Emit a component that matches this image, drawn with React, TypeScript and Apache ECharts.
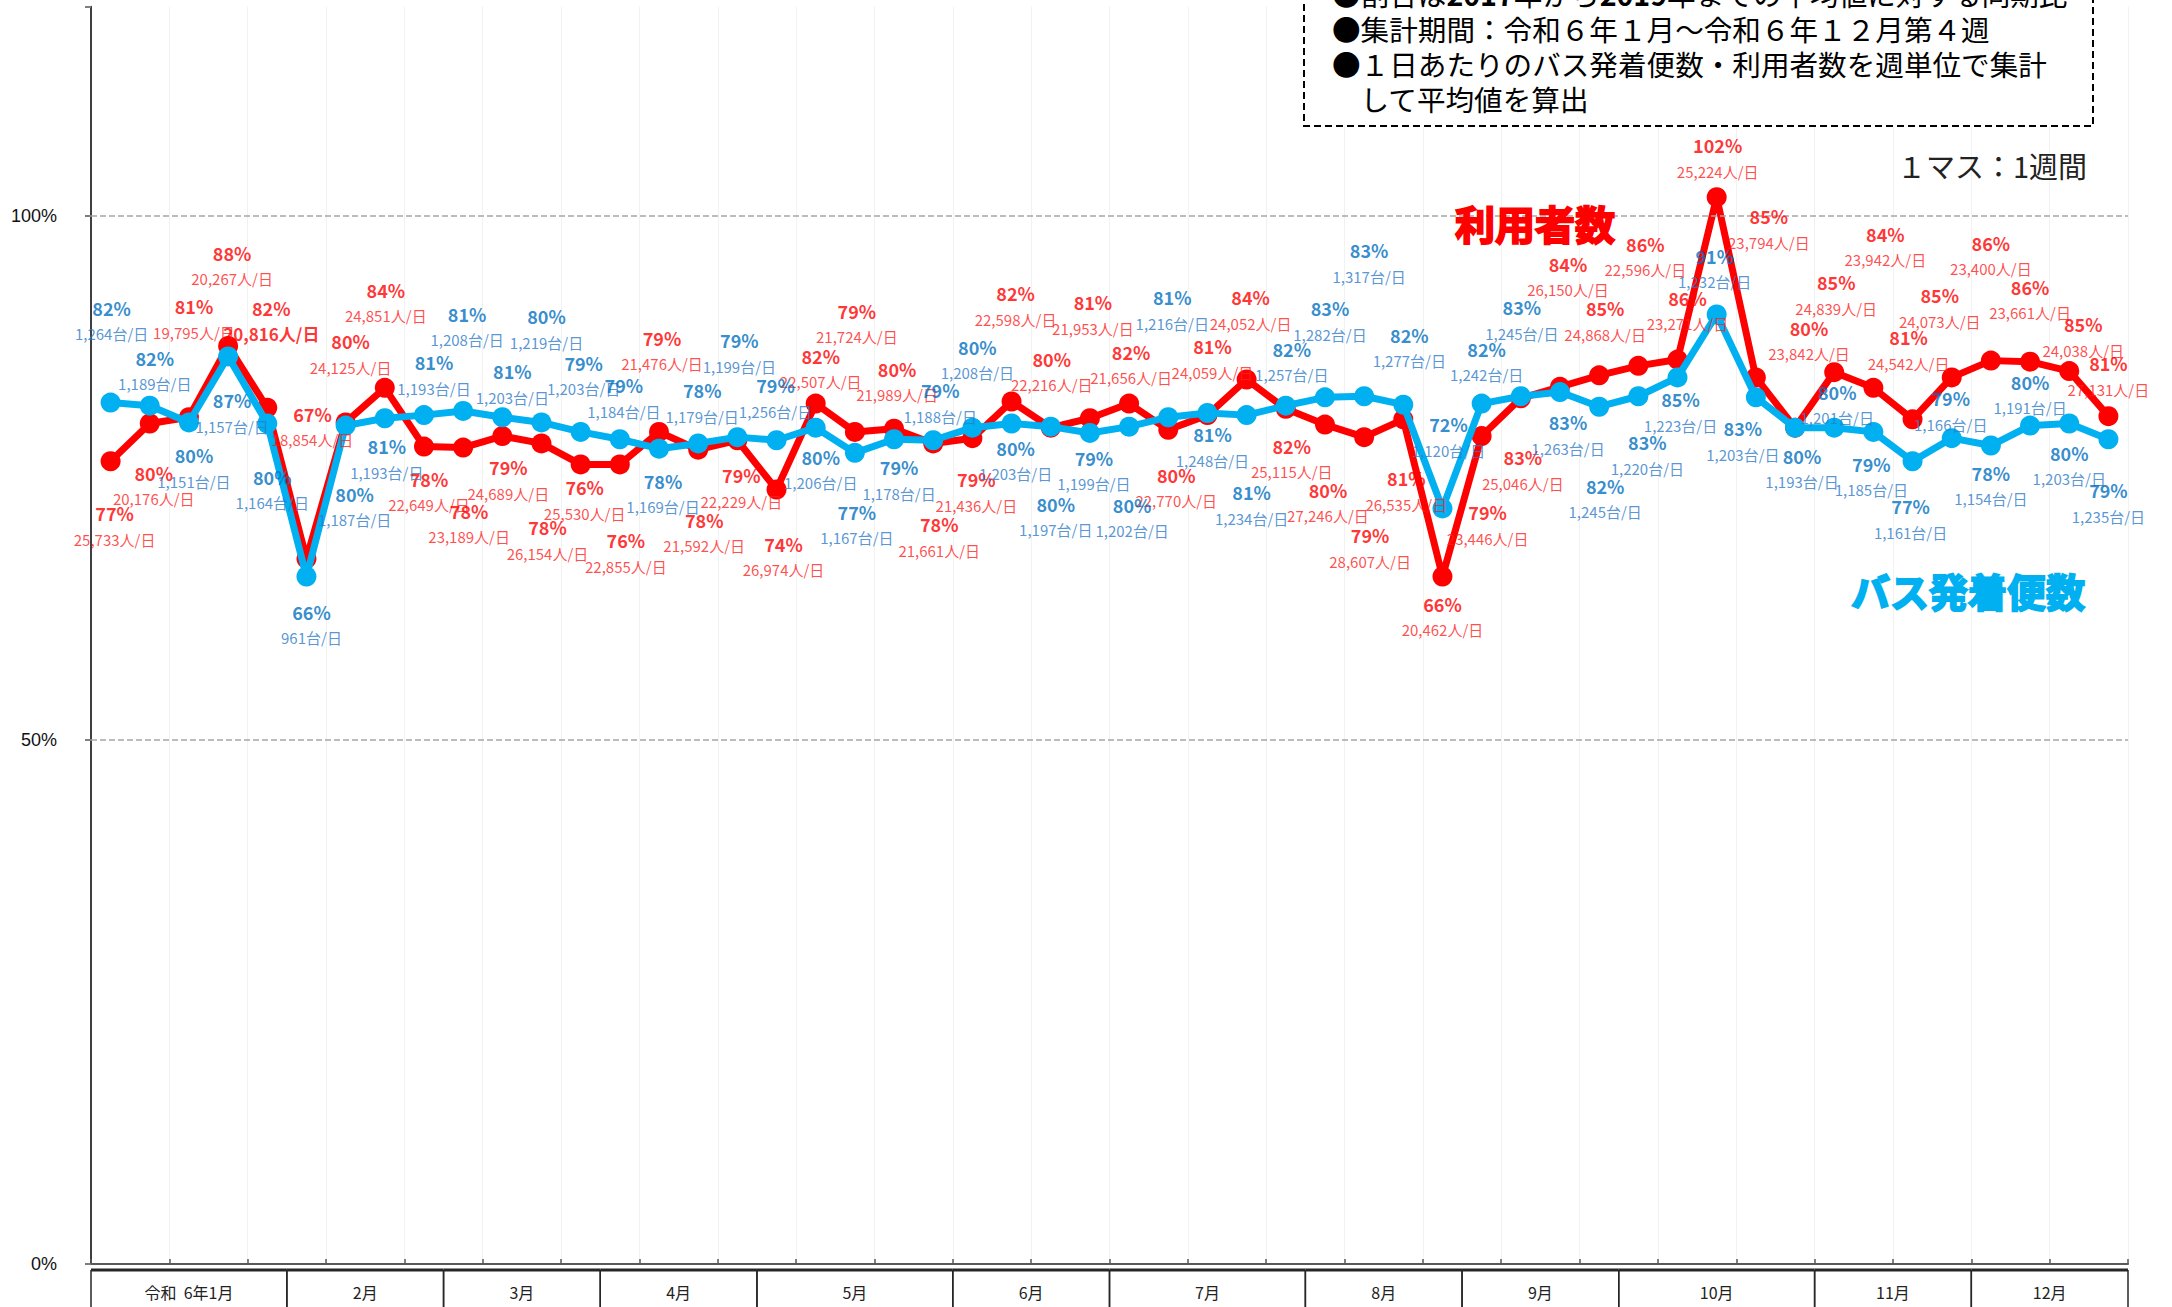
import React, { useEffect, useRef } from "react";
import * as echarts from "echarts";

// ---------- data ----------
const monthLabels = ["令和  6年1月", "2月", "3月", "4月", "5月", "6月", "7月", "8月", "9月", "10月", "11月", "12月"];
const monthWeekCounts = [5, 4, 4, 4, 5, 4, 5, 4, 4, 5, 4, 4];

// 利用者数 (% of 2017-2019 average) and persons per day
const usersPct = [
  76.6, 80.2, 80.8, 87.6, 81.7, 67.3, 80.3, 83.6, 78.0, 77.9,
  79.0, 78.3, 76.3, 76.3, 79.4, 77.7, 78.6, 73.9, 82.1, 79.4,
  79.7, 78.3, 78.8, 82.3, 79.8, 80.7, 82.1, 79.6, 81.0, 84.4,
  81.6, 80.1, 78.9, 80.6, 65.6, 79.0, 82.6, 83.7, 84.8, 85.7,
  86.3, 101.8, 84.6, 79.8, 85.1, 83.6, 80.6, 84.6, 86.2, 86.1,
  85.2, 80.9,
];
const usersPerDay = [
  25733, 20176, 19795, 20267, 20816, 18854, 24125, 24851, 22649, 23189,
  24689, 26154, 25530, 22855, 21476, 21592, 22229, 26974, 22507, 21724,
  21989, 21661, 21436, 22598, 22216, 21953, 21656, 22770, 24059, 24052,
  25115, 27246, 28607, 26535, 20462, 23446, 25046, 26150, 24868, 22596,
  23271, 25224, 23794, 23842, 24839, 23942, 24542, 24073, 23400, 23661,
  24038, 27131,
];

// バス発着便数 (%) and buses per day
const busPct = [
  82.2, 81.9, 80.3, 86.6, 80.2, 65.6, 80.0, 80.7, 81.0, 81.4,
  80.8, 80.3, 79.4, 78.7, 77.8, 78.3, 78.9, 78.6, 79.8, 77.4,
  78.7, 78.6, 79.8, 80.2, 79.9, 79.3, 79.9, 80.8, 81.2, 81.0,
  81.9, 82.7, 82.8, 82.0, 72.1, 82.1, 82.8, 83.2, 81.8, 82.8,
  84.6, 90.6, 82.7, 79.8, 79.8, 79.4, 76.6, 78.8, 78.1, 80.0,
  80.2, 78.7,
];
const busPerDay = [
  1264, 1189, 1151, 1157, 1164, 961, 1187, 1193, 1193, 1208,
  1203, 1219, 1203, 1184, 1169, 1179, 1199, 1256, 1206, 1167,
  1178, 1188, 1208, 1203, 1197, 1199, 1202, 1216, 1248, 1234,
  1257, 1282, 1317, 1277, 1120, 1242, 1245, 1263, 1245, 1220,
  1223, 1232, 1203, 1193, 1201, 1185, 1161, 1166, 1154, 1191,
  1203, 1235,
];

const yTicks = [0, 50, 100];

// ---------- layout (label placement relative to each point, px) ----------
const usersLabelOffsets = [
  [4, 65], [4, 62], [5, -98], [4, -80], [4, -87], [6, -132], [5, -68], [1, -85], [5, 45], [6, 76],
  [6, 44], [6, 97], [4, 36], [6, 89], [3, -81], [6, 83], [4, 48], [7, 67], [5, -35], [2, -108],
  [3, -47], [6, 94], [4, 54], [4, -95], [1, -56], [3, -103], [2, -39], [8, 58], [5, -56], [4, -69],
  [6, 50], [3, 78], [6, 111], [3, 72], [0, 40], [6, 89], [2, 72], [8, -110], [6, -54], [7, -109],
  [10, -49], [1, -39], [13, -148], [14, -87], [2, -77], [12, -141], [-4, -69], [-12, -69], [0, -105], [0, -62],
  [14, -34], [0, -40],
];
const busLabelOffsets = [
  [1, -82], [5, -35], [5, 46], [4, 57], [5, 66], [5, 48], [9, 81], [2, 41], [10, -40], [4, -84],
  [10, -33], [5, -93], [3, -56], [4, -41], [4, 45], [4, -40], [2, -84], [-1, -42], [5, 42], [2, 72],
  [5, 41], [7, -37], [5, -68], [4, 37], [5, 90], [4, 38], [3, 91], [4, -107], [5, 34], [5, 90],
  [6, -44], [5, -76], [5, -133], [6, -57], [6, -71], [5, -42], [1, -76], [8, 43], [6, 92], [9, 59],
  [3, 35], [-2, -46], [-13, 44], [7, 41], [3, -23], [-2, 45], [-2, 58], [-1, -27], [0, 40], [0, -31],
  [0, 42], [0, 64],
];
const emphasizedUserLabels = [4];

// ---------- derived ----------
const weekCategories: string[] = monthWeekCounts.flatMap((n, m) =>
  Array.from({ length: n }, (_, k) => `${m + 1}月第${k + 1}週`)
);
const monthStarts: number[] = monthWeekCounts.map((_, i) =>
  monthWeekCounts.slice(0, i).reduce((a, b) => a + b, 0)
);

const FONT = '"Noto Sans CJK JP", "Noto Sans", sans-serif';
const fmt = (n: number) => String(n).replace(/\B(?=(\d{3})+(?!\d))/g, ",");

const RED = "#ff0000";
const CYAN = "#00b0f0";
const BLUE_TXT = "#0070c0";
const BLUE_TXT2 = "#2e7bc9";
const NOTE_SIZE = 28.6;

const noBorder = { textBorderWidth: 0, textBorderColor: "transparent", textShadowBlur: 0 };

function buildOption(): any {
  return {
    animation: false,
    backgroundColor: "#ffffff",
    grid: { left: 91, right: 44, top: 6.4, bottom: 43, containLabel: false },
    xAxis: {
      type: "category",
      data: weekCategories,
      boundaryGap: true,
      axisLine: { show: true, lineStyle: { color: "#595959", width: 2 } },
      axisTick: { show: true, inside: true, length: 5, lineStyle: { color: "#595959", width: 1.5 } },
      axisLabel: { show: false },
      splitLine: { show: true, lineStyle: { color: "#f2f2f2", width: 1 } },
    },
    yAxis: {
      type: "value",
      min: 0,
      max: 120,
      interval: 50,
      axisLine: { show: true, lineStyle: { color: "#000", width: 1.5 } },
      axisTick: { show: true, length: 6, lineStyle: { color: "#7f7f7f", width: 2 } },
      axisLabel: {
        formatter: (v: number) => (yTicks.includes(v) ? `${v}%` : ""),
        fontSize: 18,
        color: "#111",
        fontFamily: '"Liberation Sans", Arial, sans-serif',
        margin: 34,
      },
      splitLine: { show: false },
    },
    series: [
      {
        name: "利用者数",
        type: "line",
        data: usersPct,
        symbol: "circle",
        symbolSize: 20,
        lineStyle: { color: RED, width: 7 },
        itemStyle: { color: RED },
        z: 2,
        markLine: {
          silent: true,
          symbol: ["none", "none"],
          label: { show: false },
          lineStyle: { type: "dashed", color: "#a6a6a6", width: 1.5 },
          data: yTicks.filter((v) => v > 0).map((v) => ({ yAxis: v })),
        },
      },
      {
        name: "バス発着便数",
        type: "line",
        data: busPct,
        symbol: "circle",
        symbolSize: 20,
        lineStyle: { color: CYAN, width: 7 },
        itemStyle: { color: CYAN },
        z: 3,
      },
      {
        name: "利用者数ラベル",
        type: "scatter",
        z: 6,
        silent: true,
        symbol: "circle",
        symbolSize: 1,
        itemStyle: { color: "transparent" },
        data: usersPct.map((v, i) => ({ value: v, label: { offset: usersLabelOffsets[i] } })),
        label: {
          show: true,
          position: "inside",
          ...noBorder,
          formatter: (p: any) =>
            `{p|${Math.round(p.value)}%}\n{${emphasizedUserLabels.includes(p.dataIndex) ? "cb" : "c"}|${fmt(
              usersPerDay[p.dataIndex]
            )}人/日}`,
          rich: {
            p: { fontSize: 18, fontWeight: "bold", color: RED, lineHeight: 26, fontFamily: FONT, ...noBorder },
            c: { fontSize: 15, color: "#ff1f1f", lineHeight: 26, fontFamily: FONT, ...noBorder },
            cb: { fontSize: 17, fontWeight: "bold", color: RED, lineHeight: 26, fontFamily: FONT, ...noBorder },
          },
        },
      },
      {
        name: "バス発着便数ラベル",
        type: "scatter",
        z: 6,
        silent: true,
        symbol: "circle",
        symbolSize: 1,
        itemStyle: { color: "transparent" },
        data: busPct.map((v, i) => ({ value: v, label: { offset: busLabelOffsets[i] } })),
        label: {
          show: true,
          position: "inside",
          ...noBorder,
          formatter: (p: any) => `{p|${Math.round(p.value)}%}\n{c|${fmt(busPerDay[p.dataIndex])}台/日}`,
          rich: {
            p: { fontSize: 18, fontWeight: "bold", color: BLUE_TXT, lineHeight: 26, fontFamily: FONT, ...noBorder },
            c: { fontSize: 15, color: BLUE_TXT2, lineHeight: 26, fontFamily: FONT, ...noBorder },
          },
        },
      },
      {
        name: "月",
        type: "custom",
        silent: true,
        clip: false,
        z: 7,
        data: monthStarts.map((s, i) => [s, monthWeekCounts[i]]),
        encode: { x: 0, y: 1 },
        renderItem: (params: any, api: any) => {
          const start = api.value(0);
          const n = api.value(1);
          const bw = api.size([1, 0])[0];
          const c = api.coord([start, 0]);
          const left = c[0] - bw / 2;
          const right = left + bw * n;
          const top = c[1] + 6;
          return {
            type: "group",
            children: [
              { type: "line", shape: { x1: left, y1: top, x2: right, y2: top }, style: { stroke: "#262626", lineWidth: 3 } },
              { type: "line", shape: { x1: left, y1: top, x2: left, y2: top + 70 }, style: { stroke: "#262626", lineWidth: 1.5 } },
              { type: "line", shape: { x1: right, y1: top, x2: right, y2: top + 70 }, style: { stroke: "#262626", lineWidth: 1.5 } },
              {
                type: "text",
                x: (left + right) / 2,
                y: top + 22,
                style: {
                  text: monthLabels[params.dataIndex],
                  align: "center",
                  verticalAlign: "middle",
                  fill: "#222",
                  fontSize: 16,
                  fontFamily: FONT,
                },
              },
            ],
          };
        },
      },
    ],
    graphic: [
      {
        type: "rect",
        z: 10,
        silent: true,
        shape: { x: 1304, y: -40, width: 789, height: 166 },
        style: { fill: "#fff", stroke: "#000", lineWidth: 2, lineDash: [7, 4] },
      },
      {
        type: "text",
        z: 11,
        silent: true,
        x: 1332,
        y: -7,
        style: {
          text: "{a|●割合は}{b|2017}{a|年から}{b|2019}{a|年までの平均値に対する同期比}",
          align: "left",
          verticalAlign: "middle",
          rich: {
            a: { fontSize: NOTE_SIZE, fontFamily: FONT, fill: "#000" },
            b: { fontSize: NOTE_SIZE, fontFamily: FONT, fontWeight: "bold", fill: "#000" },
          },
        },
      },
      {
        type: "text",
        z: 11,
        silent: true,
        x: 1332,
        y: 28,
        style: { text: "●集計期間：令和６年１月～令和６年１２月第４週", fontSize: NOTE_SIZE, fontFamily: FONT, fill: "#000", align: "left", verticalAlign: "middle" },
      },
      {
        type: "text",
        z: 11,
        silent: true,
        x: 1332,
        y: 63,
        style: { text: "●１日あたりのバス発着便数・利用者数を週単位で集計", fontSize: NOTE_SIZE, fontFamily: FONT, fill: "#000", align: "left", verticalAlign: "middle" },
      },
      {
        type: "text",
        z: 11,
        silent: true,
        x: 1332,
        y: 98,
        style: { text: "　して平均値を算出", fontSize: NOTE_SIZE, fontFamily: FONT, fill: "#000", align: "left", verticalAlign: "middle" },
      },
      {
        type: "text",
        z: 11,
        silent: true,
        x: 2087,
        y: 165,
        style: { text: "１マス：1週間", fontSize: 29, fontFamily: FONT, fill: "#222", align: "right", verticalAlign: "middle" },
      },
      {
        type: "text",
        z: 11,
        silent: true,
        x: 1535,
        y: 223,
        style: {
          text: "利用者数",
          fontSize: 40,
          fontWeight: "bold",
          fontFamily: FONT,
          fill: RED,
          stroke: RED,
          lineWidth: 2,
          align: "center",
          verticalAlign: "middle",
        },
      },
      {
        type: "text",
        z: 11,
        silent: true,
        x: 1968,
        y: 590,
        style: {
          text: "バス発着便数",
          fontSize: 39,
          fontWeight: "bold",
          fontFamily: FONT,
          fill: CYAN,
          stroke: CYAN,
          lineWidth: 2,
          align: "center",
          verticalAlign: "middle",
        },
      },
    ],
  };
}

export default function App() {
  const ref = useRef<HTMLDivElement>(null);
  useEffect(() => {
    if (!ref.current) return;
    const chart = echarts.init(ref.current, null, { renderer: "svg" });
    chart.setOption(buildOption());
    return () => chart.dispose();
  }, []);
  return (
    <div
      ref={ref}
      style={{ position: "fixed", left: 0, top: 0, width: 2172, height: 1307, background: "#fff" }}
    />
  );
}
